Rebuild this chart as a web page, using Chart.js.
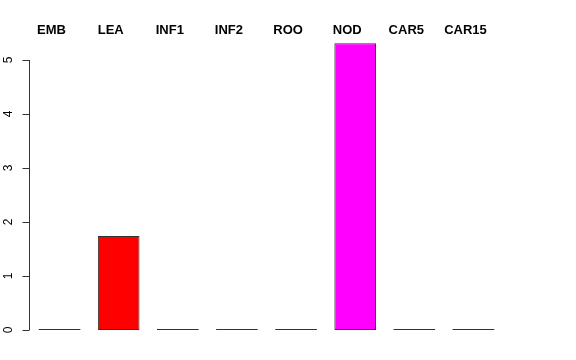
<!DOCTYPE html>
<html>
<head>
<meta charset="utf-8">
<script src="https://cdn.jsdelivr.net/npm/chart.js@4/dist/chart.umd.min.js"></script>
<style>
  html, body { margin: 0; padding: 0; background: #fff; }
  #wrap { width: 576px; height: 360px; }
</style>
</head>
<body>
<div id="wrap"><canvas id="chart"></canvas></div>
<script>
// data
const categories = ['EMB', 'LEA', 'INF1', 'INF2', 'ROO', 'NOD', 'CAR5', 'CAR15'];
const values = [0, 1.74, 0, 0, 0, 5.31, 0, 0];
const barColors = ['#bebebe', '#ff0000', '#bebebe', '#bebebe', '#bebebe', '#ff00ff', '#bebebe', '#bebebe'];
const yTicks = [0, 1, 2, 3, 4, 5];

const axisColor = '#333';

// R-style axis: line only over tick range, rotated labels, category names on top
const baseAxes = {
    id: 'baseAxes',
    afterDraw(chart) {
        const { ctx, scales: { x, y } } = chart;
        const ax = 29.5;
        ctx.save();
        ctx.strokeStyle = axisColor;
        ctx.lineWidth = 1;
        ctx.beginPath();
        ctx.moveTo(ax, y.getPixelForValue(yTicks[0]));
        ctx.lineTo(ax, y.getPixelForValue(yTicks[yTicks.length - 1]));
        yTicks.forEach(t => {
            const py = Math.round(y.getPixelForValue(t)) + 0.5;
            ctx.moveTo(ax, py);
            ctx.lineTo(ax - 7, py);
        });
        ctx.stroke();

        ctx.fillStyle = '#000';
        ctx.font = '12px "Liberation Sans", Arial, sans-serif';
        ctx.textAlign = 'center';
        ctx.textBaseline = 'middle';
        yTicks.forEach(t => {
            ctx.save();
            ctx.translate(9, y.getPixelForValue(t));
            ctx.rotate(-Math.PI / 2);
            ctx.fillText(String(t), 0, 0);
            ctx.restore();
        });

        ctx.font = 'bold 13px "Liberation Sans", Arial, sans-serif';
        categories.forEach((c, i) => {
            ctx.fillText(c, x.getPixelForValue(i) - 8, 30);
        });
        ctx.restore();
    }
};

new Chart(document.getElementById('chart'), {
    type: 'bar',
    data: {
        labels: categories,
        datasets: [{
            data: values,
            backgroundColor: c => (c.raw === 0 ? axisColor : barColors[c.dataIndex]),
            borderColor: axisColor,
            borderWidth: c => (c.raw === 0 ? 0 : 1),
            borderSkipped: false,
            minBarLength: 1,
            categoryPercentage: 1,
            barPercentage: 0.704,
            clip: false
        }]
    },
    options: {
        responsive: true,
        maintainAspectRatio: false,
        animation: false,
        layout: { padding: { left: 30, right: 73, top: 33, bottom: 30 } },
        scales: {
            x: { display: false },
            y: { display: false, min: 0, max: 5.5 }
        },
        plugins: {
            legend: { display: false },
            tooltip: { enabled: false }
        }
    },
    plugins: [baseAxes]
});
</script>
</body>
</html>
